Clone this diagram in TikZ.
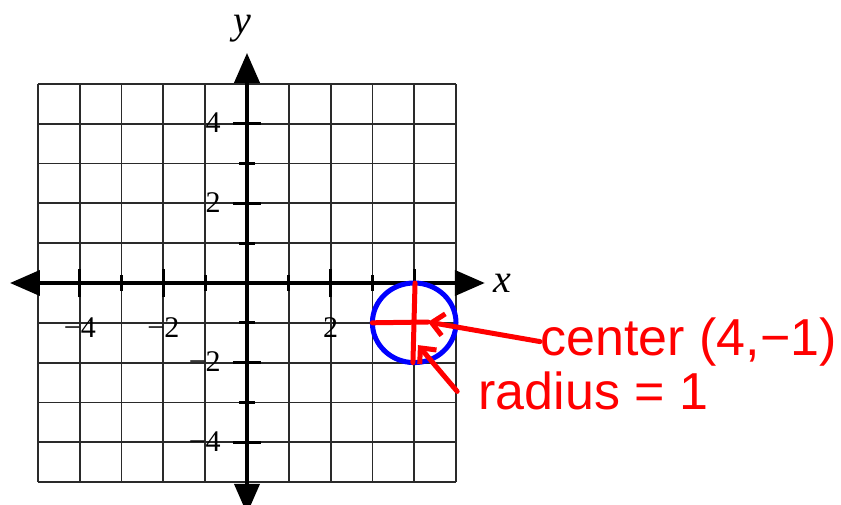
\documentclass[tikz,border=0pt]{standalone}
\usepackage{fontspec}
\setmainfont{Liberation Serif}
\newfontfamily\handfont{Liberation Sans}
\usetikzlibrary{arrows.meta,positioning}
\definecolor{penred}{HTML}{FF0000}
\definecolor{penblue}{HTML}{0000FF}
\definecolor{gridgray}{HTML}{2A2A2A}
\tikzset{
  gridline/.style={gridgray, line width=0.9pt},
  axisline/.style={black, line width=2pt},
  axistip/.style={axisline, {Triangle[length=15pt,width=12.5pt]}-{Triangle[length=15pt,width=12.5pt]}},
  tickmark/.style={black, line width=1.5pt},
  ticklabel/.style={font=\fontsize{15}{15}\selectfont, inner sep=0pt},
  axislabel/.style={font=\fontsize{20}{20}\selectfont\itshape, inner sep=0pt},
  penline/.style={penred, line width=2.5pt, line cap=round},
  pennote/.style={penred, font=\handfont\fontsize{26}{26}\selectfont, inner sep=0pt, anchor=base west},
}

\begin{document}
\begin{tikzpicture}[x=20.9pt, y=19.9pt]
\useasboundingbox (-123.5pt,-110.5pt) rectangle (297pt,141.5pt);

% --- Grid ---
\draw[gridline, xstep=20.9pt, ystep=19.9pt] (-5,-5) grid (5,5);

% --- Axes ---
\coordinate (xleft) at (-5.67,0);
\coordinate (xright) at (5.69,0);
\coordinate (ybottom) at (0,-5.8);
\coordinate (ytop) at (0,5.78);
\draw[axistip] (xleft) -- (xright);
\draw[axistip] (ybottom) -- (ytop);

% Ticks (long at even, short at odd)
\foreach \t in {-4,-2,2,4} {
  \draw[tickmark] (\t,-0.36) -- (\t,0.36);
  \draw[tickmark] (-0.34,\t) -- (0.34,\t);
}
\foreach \t in {-3,-1,1,3} {
  \draw[tickmark] (\t,-0.19) -- (\t,0.19);
  \draw[tickmark] (-0.19,\t) -- (0.19,\t);
}

% Tick labels
\foreach \t/\s in {-4/−4,-2/−2,2/2}
  \node[ticklabel, anchor=base] (xnum\t) at (\t,-1.36) {\s};
\foreach \t/\s in {4/4,2/2,-2/−2,-4/−4}
  \node[ticklabel, anchor=base east] (ynum\t) at (-0.62,{\t-0.23}) {\s};

\node[axislabel, anchor=base] (xname) at (6.1,-0.25) {x};
\node[axislabel, anchor=base] (yname) at (-0.12,6.28) {y};

% --- Circle ---
\coordinate (ctr) at (4,-1);
\draw[penblue, line width=2.5pt] (ctr) circle [radius=1];

% --- Red notes ---
\node[pennote] (centernote) at (7.01,-1.81) {center (4,−1)};
\node[pennote] (radiusnote) at (5.53,-3.19) {radius = 1};

\coordinate (ctrtip) at (4.33,-0.98);
\coordinate (radtip) at (4.09,-1.56);
\draw[penline] (4.02,0) -- (3.97,-2);
\draw[penline] (3,-1) -- (ctrtip);
\draw[penline, -{Straight Barb[length=6pt,width=11pt]}] (centernote.west) -- (ctrtip);
\draw[penline, -{Straight Barb[length=6pt,width=11pt]}] ([xshift=-10.5pt]radiusnote.west) -- (radtip);
\end{tikzpicture}
\end{document}
